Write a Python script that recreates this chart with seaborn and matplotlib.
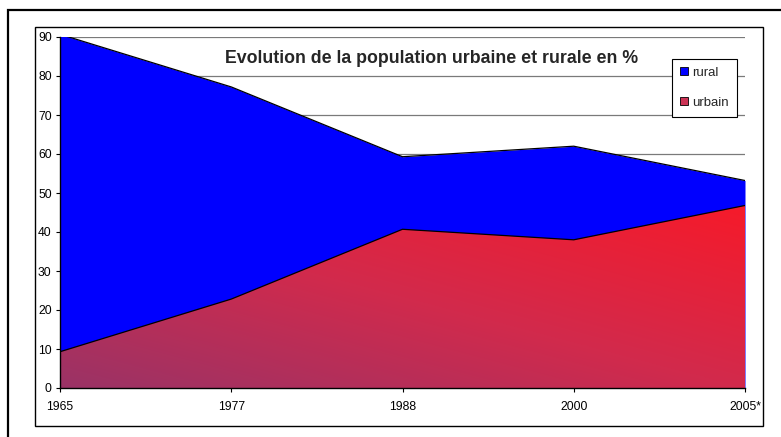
import matplotlib
matplotlib.use("Agg")
import numpy as np
import pandas as pd
import matplotlib.pyplot as plt
import seaborn as sns
from matplotlib.colors import LinearSegmentedColormap
from matplotlib.patches import Rectangle, Patch

# data (% of population)
years = ["1965", "1977", "1988", "2000", "2005*"]
rural = [90.7, 77.2, 59.3, 62.0, 53.2]
urbain = [9.3, 22.8, 40.7, 38.0, 46.8]

sns.set_style("white")
plt.rcParams["font.family"] = ["Liberation Sans", "DejaVu Sans"]

W, H = 781, 437
fig = plt.figure(figsize=(W / 100, H / 100), dpi=100)
ax = fig.add_axes([60 / W, 1 - 388 / H, 685 / W, 351 / H])

x = np.arange(len(years))
df = pd.DataFrame({"x": x, "rural": rural, "urbain": urbain})

# rural area (drawn behind), urbain area in front with a diagonal gradient
ax.fill_between(df["x"], 0, df["rural"], color="#0000ff", lw=0, zorder=2)
poly = ax.fill_between(df["x"], 0, df["urbain"], color="none", lw=0, zorder=3)

gx, gy = np.meshgrid(np.linspace(0, 1, 300), np.linspace(0, 1, 300))
grad = (gx + gy) / 2
cmap = LinearSegmentedColormap.from_list("urb", ["#9a3366", "#d22a4c", "#f61a2a"])
im = ax.imshow(grad, cmap=cmap, origin="lower", aspect="auto",
               extent=[0, len(years) - 1, 0, max(urbain)],
               interpolation="bilinear", zorder=3)
im.set_clip_path(poly.get_paths()[0], transform=ax.transData)

sns.lineplot(data=df, x="x", y="rural", color="black", lw=0.9, ax=ax, zorder=4)
sns.lineplot(data=df, x="x", y="urbain", color="black", lw=0.9, ax=ax, zorder=4)

ax.set_xlim(0, len(years) - 1)
ax.set_ylim(0, 90)
ax.set_xticks(x, years)
ax.set_yticks(range(0, 91, 10))
ax.set_xlabel("")
ax.set_ylabel("")
ax.set_axisbelow(True)
ax.yaxis.grid(True, color="#7a7a7a", lw=0.9)
ax.xaxis.grid(False)
for s in ["top", "right"]:
    ax.spines[s].set_visible(False)
for s in ["left", "bottom"]:
    ax.spines[s].set_color("black")
    ax.spines[s].set_linewidth(1.0)
    ax.spines[s].set_zorder(5)
ax.tick_params(axis="both", direction="out", length=3, width=0.8,
               color="black", labelsize=8.7, labelcolor="black")
ax.tick_params(axis="x", pad=6, bottom=True)
ax.tick_params(axis="y", pad=3, left=True)

ax.text(2.17, 84.5, "Evolution de la population urbaine et rurale en %",
        ha="center", va="center", fontsize=12.8, fontweight="bold", zorder=6)

handles = [Patch(facecolor="#0000ff", edgecolor="black", lw=0.6, label="rural"),
           Patch(facecolor="#cc3355", edgecolor="black", lw=0.6, label="urbain")]
leg = fig.legend(handles=handles, loc="upper left",
                 bbox_to_anchor=(672 / W, 1 - 59 / H), fontsize=9.5,
                 frameon=True, fancybox=False, framealpha=1, edgecolor="black",
                 handlelength=0.6, handleheight=0.6, handletextpad=0.35,
                 labelspacing=1.35, borderpad=0.6, borderaxespad=0)
leg.get_frame().set_linewidth(0.8)

# chart-area box and outer frame
fig.patches.append(Rectangle((35 / W, 1 - 426 / H), (763 - 35) / W, (426 - 27) / H,
                             transform=fig.transFigure, fill=False, ec="black", lw=1.0))
fig.patches.append(Rectangle((8 / W, -0.2), 2, 1.2 - 10 / H,
                             transform=fig.transFigure, fill=False, ec="black", lw=1.6))

fig.savefig("out.png", dpi=100)
